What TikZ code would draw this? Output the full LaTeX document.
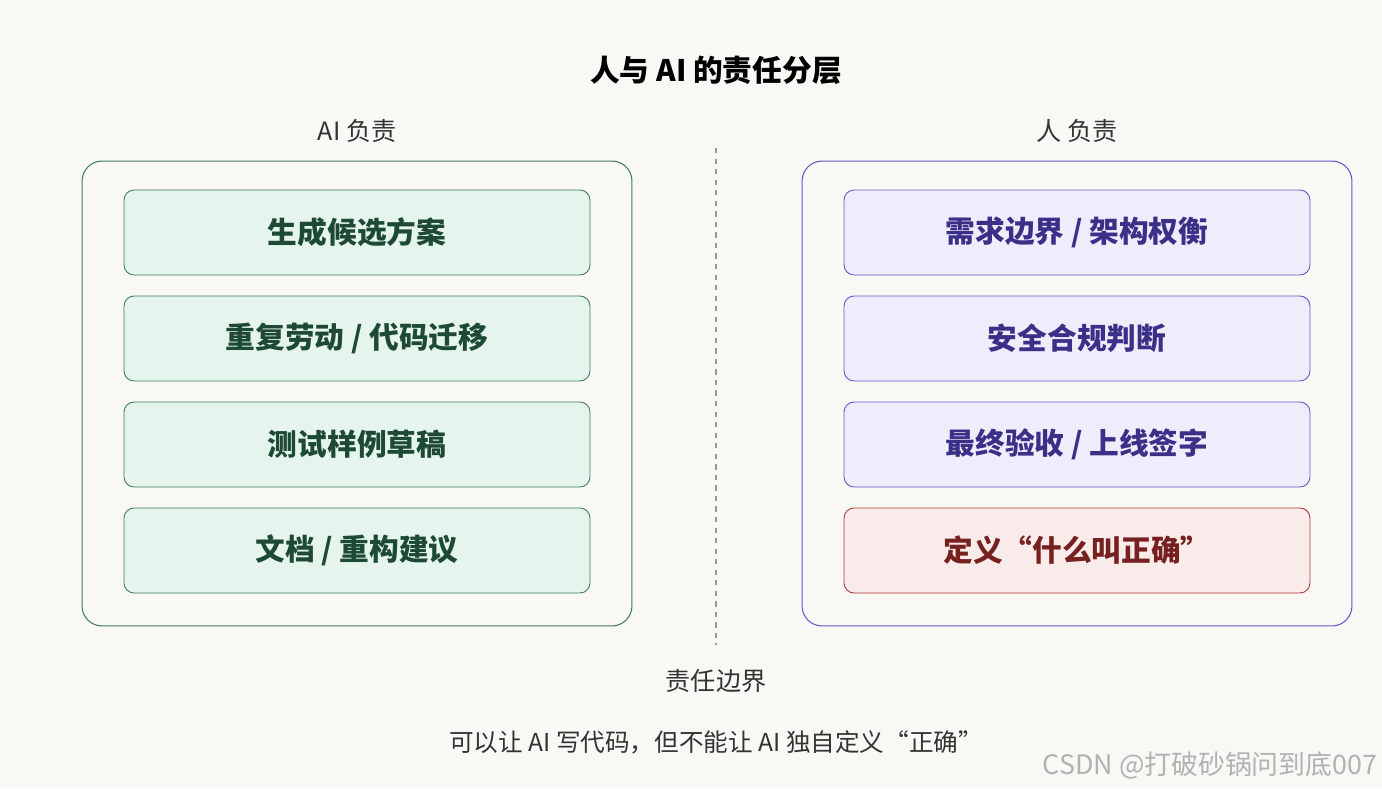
\documentclass[tikz,border=0pt]{standalone}
\usepackage{fontspec}
\setmainfont{Noto Sans CJK SC}
\usetikzlibrary{positioning}
\definecolor{bgc}{HTML}{F9F8F5}
\definecolor{aifill}{HTML}{E5F4ED}
\definecolor{aidraw}{HTML}{3F7D5C}
\definecolor{aitext}{HTML}{1E4A35}
\definecolor{hufill}{HTML}{EEEDFC}
\definecolor{hudraw}{HTML}{6457C8}
\definecolor{hutext}{HTML}{3A3088}
\definecolor{rdfill}{HTML}{F9EBEA}
\definecolor{rddraw}{HTML}{A83A3A}
\definecolor{rdtext}{HTML}{772020}
\tikzset{
  outer/.style={rounded corners=0.4cm, draw=#1, line width=0.6pt, minimum width=11cm, minimum height=9.3cm},
  item/.style={rounded corners=0.2cm, draw=#1, line width=0.5pt, minimum width=9.32cm, minimum height=1.7cm, font=\fontsize{16.9}{18}\selectfont\bfseries},
  head/.style={font=\fontsize{14.3}{16}\selectfont, text=black!80}
}
\begin{document}
\begin{tikzpicture}[x=0.02cm,y=-0.02cm]
    \fill[bgc] (0,0) rectangle (1382,788);
    \useasboundingbox (0,0) rectangle (1382,788);
    \node[font=\fontsize{16.9}{18}\selectfont\bfseries] (title) at (716,70) {人与 AI 的责任分层};

    \node[head] (aihead) at (357,131) {AI 负责};
    \node[head] (huhead) at (1077,131) {人 负责};
    \node[outer=aidraw] (aibox) at (357,393.5) {};
    \node[outer=hudraw] (hubox) at (1077,393.5) {};

    \node[item=aidraw, fill=aifill, text=aitext] (ai1) at (357,232.5) {生成候选方案};
    \node[item=aidraw, fill=aifill, text=aitext] (ai2) at (357,338.5) {重复劳动 / 代码迁移};
    \node[item=aidraw, fill=aifill, text=aitext] (ai3) at (357,444.5) {测试样例草稿};
    \node[item=aidraw, fill=aifill, text=aitext] (ai4) at (357,550.5) {文档 / 重构建议};

    \node[item=hudraw, fill=hufill, text=hutext] (hu1) at (1077,232.5) {需求边界 / 架构权衡};
    \node[item=hudraw, fill=hufill, text=hutext] (hu2) at (1077,338.5) {安全合规判断};
    \node[item=hudraw, fill=hufill, text=hutext] (hu3) at (1077,444.5) {最终验收 / 上线签字};
    \node[item=rddraw, fill=rdfill, text=rdtext] (hu4) at (1077,550.5) {定义“什么叫正确”};

    % boundary
    \coordinate (top) at (716,148);
    \coordinate (bot) at (716,645);
    \draw[black!40, dashed, line width=0.6pt] (top) -- (bot);
    \node[head] (border) at (716,681) {责任边界};
    \node[head, font=\fontsize{14}{16}\selectfont] (note) at (716,742) {可以让 AI 写代码，但不能让 AI 独自定义“正确”};
    \node[font=\fontsize{15.3}{17}\selectfont, text=black!30] (mark) at (1210,765) {CSDN @打破砂锅问到底007};
\end{tikzpicture}
\end{document}
